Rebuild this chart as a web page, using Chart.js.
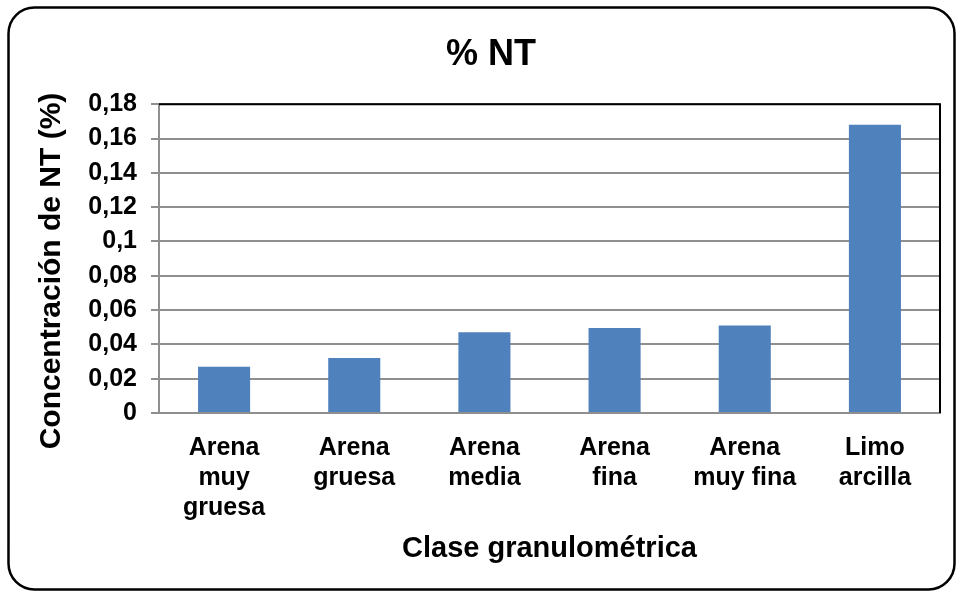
<!DOCTYPE html>
<html>
<head>
<meta charset="utf-8">
<title>% NT</title>
<script src="https://cdn.jsdelivr.net/npm/chart.js@4/dist/chart.umd.min.js"></script>
<style>
  html, body { margin: 0; padding: 0; background: #ffffff; }
  #wrap { width: 960px; height: 592px; }
</style>
</head>
<body>
<div id="wrap"><canvas id="chart" width="960" height="592"></canvas></div>
<script>
"use strict";

// data: nitrogen concentration per grain-size class
let classes = [
  ["Arena", "muy", "gruesa"],
  ["Arena", "gruesa"],
  ["Arena", "media"],
  ["Arena", "fina"],
  ["Arena", "muy fina"],
  ["Limo", "arcilla"]
];
let ntValues = [0.027, 0.032, 0.047, 0.0495, 0.051, 0.168];
let yTickLabels = ["0", "0,02", "0,04", "0,06", "0,08", "0,1", "0,12", "0,14", "0,16", "0,18"];
let yTitle = "Concentración de NT (%)";

const FONT = "'Liberation Sans', Arial, sans-serif";
const GRID = "#8f8f8f";

// rounded frame, black top/right edge of the plot, rotated y title
const framePlugin = {
  id: "frame",
  afterDraw(chart) {
    const ctx = chart.ctx;
    const a = chart.chartArea;
    ctx.save();
    ctx.strokeStyle = "#000";
    ctx.lineWidth = 2;
    ctx.beginPath();
    ctx.moveTo(a.left, a.top);
    ctx.lineTo(a.right, a.top);
    ctx.lineTo(a.right, a.bottom);
    ctx.stroke();

    ctx.lineWidth = 2.5;
    ctx.beginPath();
    ctx.roundRect(8.5, 7.5, 946, 582, 26);
    ctx.stroke();

    // y axis title sits a bit below the middle of the plot
    ctx.translate(52, 271);
    ctx.rotate(-Math.PI / 2);
    ctx.fillStyle = "#000";
    ctx.font = "bold 30px " + FONT;
    ctx.textAlign = "center";
    ctx.textBaseline = "middle";
    ctx.fillText(yTitle, 0, 0);
    ctx.restore();
  }
};

function appendChart() {
  let chartContainer = document.getElementById("chart");
  new Chart(chartContainer, {
    type: "bar",
    data: {
      labels: classes,
      datasets: [{
        data: ntValues,
        backgroundColor: "#4f81bd",
        borderWidth: 0,
        categoryPercentage: 1,
        barPercentage: 0.4
      }]
    },
    options: {
      responsive: false,
      animation: false,
      layout: { padding: { left: 42, right: 20, top: 0, bottom: 0 } },
      plugins: {
        legend: { display: false },
        tooltip: { enabled: false },
        title: {
          display: true,
          text: "% NT",
          color: "#000",
          font: { family: FONT, size: 36, weight: "bold", lineHeight: 1.2 },
          padding: { top: 33, bottom: 28 }
        }
      },
      scales: {
        x: {
          grid: { display: false, drawTicks: false },
          border: { display: true, color: GRID, width: 2 },
          ticks: {
            color: "#000",
            font: { family: FONT, size: 25, weight: "bold", lineHeight: 1.2 },
            padding: 20,
            maxRotation: 0,
            autoSkip: false
          },
          title: {
            display: true,
            text: "Clase granulométrica",
            color: "#000",
            font: { family: FONT, size: 29, weight: "bold", lineHeight: 1.2 },
            padding: { top: 0, bottom: 26 }
          },
          afterFit(scale) { scale.height = 179; }
        },
        y: {
          min: 0,
          max: 0.18,
          ticks: {
            stepSize: 0.02,
            color: "#000",
            font: { family: FONT, size: 25, weight: "bold" },
            padding: 14,
            callback: (value, index) => yTickLabels[index]
          },
          grid: { color: GRID, lineWidth: 2, tickLength: 8, drawTicks: true },
          border: { display: true, color: GRID, width: 2 },
          afterFit(scale) { scale.width = 117; }
        }
      }
    },
    plugins: [framePlugin]
  });
}

appendChart();
</script>
</body>
</html>
